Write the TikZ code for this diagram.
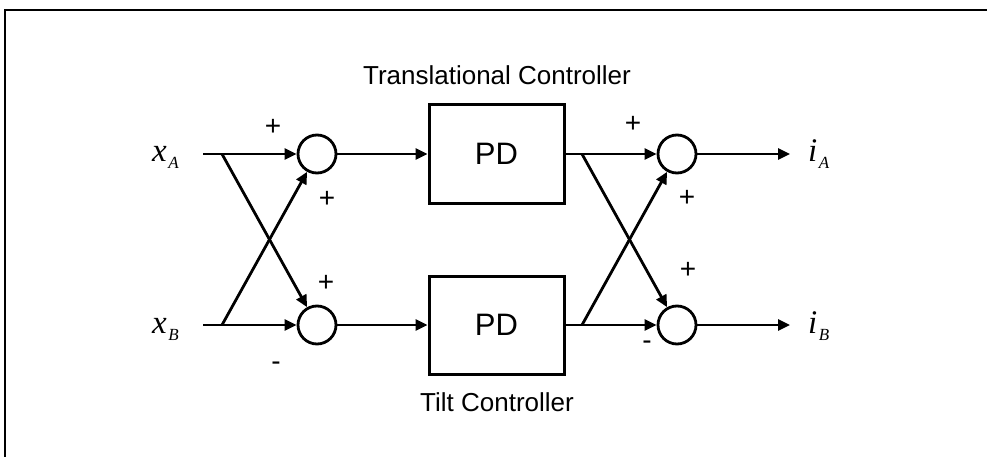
\documentclass[tikz,border=0pt]{standalone}
\usepackage{fontspec}
\setmainfont{Liberation Sans}
\newfontfamily\tms{Liberation Serif}
\usetikzlibrary{arrows.meta}
\tikzset{
  wire/.style={line width=2.8pt},
  arr/.style={wire,-{Triangle[length=12pt,width=11pt]}},
  sumnode/.style={circle,draw,line width=2.8pt,minimum size=38pt,inner sep=0pt},
  pdbox/.style={rectangle,draw,line width=3pt,minimum width=135pt,minimum height=98pt,inner sep=0pt,font=\fontsize{31}{34}\selectfont},
  title/.style={inner sep=0pt,font=\fontsize{26}{30}\selectfont},
  sign/.style={inner sep=0pt,font=\fontsize{28}{30}\selectfont},
  var/.style={inner sep=0pt,anchor=base west}
}
\newcommand{\varlbl}[2]{{\tms\itshape\fontsize{33}{34}\selectfont #1}\kern1.5pt\raisebox{-7pt}{\tms\itshape\fontsize{17}{17}\selectfont #2}}
\begin{document}
\begin{tikzpicture}[x=1pt,y=-1pt]
\useasboundingbox (0,0) rectangle (987,457);
% frame
\draw[line width=2.8pt] (5,457) -- (5,10) -- (987,10);
% nodes
\node[sumnode] (s1) at (317,154) {};
\node[sumnode] (s2) at (317,325) {};
\node[sumnode] (s3) at (677,154) {};
\node[sumnode] (s4) at (677,325) {};
\node[pdbox] (b1) at (496.5,154) {PD};
\node[pdbox] (b2) at (496.5,325) {PD};
\node[title] (t1) at (497,75) {Translational Controller};
\node[title] (t2) at (497,402) {Tilt Controller};
\node[var] (xa) at (152,162) {\varlbl{x}{A}};
\node[var] (xb) at (152,333) {\varlbl{x}{B}};
\node[var] (ia) at (808,162) {\varlbl{i}{A}};
\node[var] (ib) at (808,333) {\varlbl{i}{B}};
% coordinates
\coordinate (ina) at (203,154);
\coordinate (inb) at (203,325);
\coordinate (ja) at (222,154);
\coordinate (jb) at (222,325);
\coordinate (ka) at (582,154);
\coordinate (kb) at (582,325);
\coordinate (oa) at (790,154);
\coordinate (ob) at (790,325);
% connectors left
\draw[arr] (ina) -- (s1);
\draw[arr] (inb) -- (s2);
\draw[arr] (ja) -- (s2);
\draw[arr] (jb) -- (s1);
\draw[arr] (s1) -- (b1);
\draw[arr] (s2) -- (b2);
% connectors right
\draw[arr] (b1) -- (s3);
\draw[arr] (b2) -- (s4);
\draw[arr] (ka) -- (s4);
\draw[arr] (kb) -- (s3);
\draw[arr] (s3) -- (oa);
\draw[arr] (s4) -- (ob);
% signs
\node[sign] (p1) at (273,127) {+};
\node[sign] (p2) at (327,199) {+};
\node[sign] (p3) at (326,283) {+};
\node[sign] (m1) at (276,366) {-};
\node[sign] (p4) at (633,124) {+};
\node[sign] (p5) at (687,198) {+};
\node[sign] (p6) at (688,270) {+};
\node[sign] (m2) at (647,345) {-};
\end{tikzpicture}
\end{document}
